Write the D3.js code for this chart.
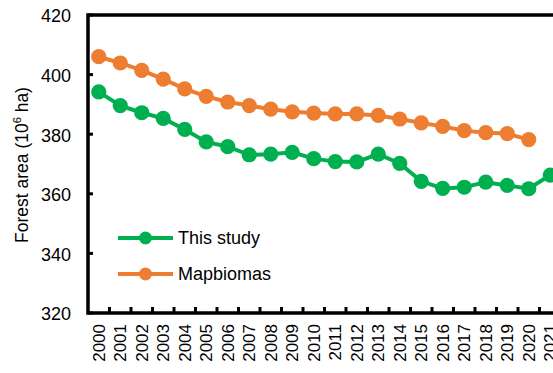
<!DOCTYPE html>
<html>
<head>
<meta charset="utf-8">
<script src="https://cdn.jsdelivr.net/npm/d3@7"></script>
<style>
  html, body { margin: 0; padding: 0; background: #fff; }
  svg { display: block; font-family: Arial, "Liberation Sans", sans-serif; }
</style>
</head>
<body>
<svg id="chart" width="553" height="373"></svg>
<script>
// Annual forest area estimates, million hectares
const years = ["2000","2001","2002","2003","2004","2005","2006","2007","2008","2009","2010",
               "2011","2012","2013","2014","2015","2016","2017","2018","2019","2020","2021"];
const thisStudy = [394.2, 389.6, 387.2, 385.3, 381.6, 377.4, 375.8, 373.1, 373.3, 373.9, 371.8,
                   370.8, 370.7, 373.3, 370.2, 364.2, 361.8, 362.2, 363.9, 362.8, 361.7, 366.3];
const mapbiomas = [406.0, 403.9, 401.4, 398.5, 395.2, 392.7, 390.8, 389.6, 388.4, 387.5, 387.1,
                   386.8, 386.8, 386.3, 385.1, 383.8, 382.6, 381.2, 380.5, 380.2, 378.2];
const yTicks = [320, 340, 360, 380, 400, 420];
const seriesNames = ["This study", "Mapbiomas"];
const colors = ["#00B050", "#ED7D31"];

const svg = d3.select("#chart");
const plotLeft = 88, plotTop = 15, plotBottom = 313;
const bandW = 21.5;

const x = d3.scaleBand().domain(years).range([plotLeft, plotLeft + bandW * years.length]).paddingInner(0).paddingOuter(0);
const y = d3.scaleLinear().domain([320, 420]).range([plotBottom, plotTop]);

// Series lines and markers
const series = [thisStudy, mapbiomas];
const line = d3.line()
  .x((d, i) => x(years[i]) + x.bandwidth() / 2)
  .y(d => y(d));

series.forEach((vals, s) => {
  const g = svg.append("g");
  g.append("path")
    .attr("d", line(vals))
    .attr("fill", "none")
    .attr("stroke", colors[s])
    .attr("stroke-width", 4);
  g.selectAll("circle").data(vals).join("circle")
    .attr("cx", (d, i) => x(years[i]) + x.bandwidth() / 2)
    .attr("cy", d => y(d))
    .attr("r", 7.6)
    .attr("fill", colors[s]);
});

// Y axis: inward ticks, labels on the left
const yAxis = svg.append("g").attr("transform", `translate(${plotLeft},0)`);
yAxis.selectAll("line.tick").data(yTicks).join("line")
  .attr("x1", 0).attr("x2", 5)
  .attr("y1", d => y(d)).attr("y2", d => y(d))
  .attr("stroke", "#000").attr("stroke-width", 3);
yAxis.selectAll("text").data(yTicks).join("text")
  .attr("x", -17).attr("y", d => y(d) + 1)
  .attr("dy", "0.35em")
  .attr("text-anchor", "end")
  .attr("font-size", 18)
  .attr("fill", "#000")
  .text(d => d);

// X axis: ticks between categories, pointing inward
const edges = years.map(yr => x(yr)).concat([x.range()[1]]).slice(1);
svg.append("g").selectAll("line").data(edges).join("line")
  .attr("x1", d => d).attr("x2", d => d)
  .attr("y1", plotBottom).attr("y2", plotBottom - 6)
  .attr("stroke", "#000").attr("stroke-width", 3);
svg.append("g").selectAll("text").data(years).join("text")
  .attr("transform", d => `translate(${x(d) + x.bandwidth() / 2},${plotBottom + 11}) rotate(-90)`)
  .attr("dy", "0.35em")
  .attr("text-anchor", "end")
  .attr("font-size", 17)
  .attr("fill", "#000")
  .text(d => d);

// Plot frame
svg.append("rect")
  .attr("x", plotLeft).attr("y", plotTop)
  .attr("width", x.range()[1] - plotLeft).attr("height", plotBottom - plotTop)
  .attr("fill", "none").attr("stroke", "#000").attr("stroke-width", 3.5);

// Y axis title
const yTitle = svg.append("text")
  .attr("transform", `translate(28,165) rotate(-90)`)
  .attr("text-anchor", "middle")
  .attr("font-size", 17.5)
  .attr("fill", "#000");
yTitle.append("tspan").text("Forest area (10");
yTitle.append("tspan").attr("font-size", 11).attr("dy", -7).text("6");
yTitle.append("tspan").attr("dy", 7).text(" ha)");

// Legend
const legend = svg.append("g");
seriesNames.forEach((name, i) => {
  const ly = 238 + i * 36;
  legend.append("line")
    .attr("x1", 118).attr("x2", 173).attr("y1", ly).attr("y2", ly)
    .attr("stroke", colors[i]).attr("stroke-width", 4);
  legend.append("circle")
    .attr("cx", 145.5).attr("cy", ly).attr("r", 6.5).attr("fill", colors[i]);
  legend.append("text")
    .attr("x", 178).attr("y", ly).attr("dy", "0.35em")
    .attr("font-size", 18).attr("fill", "#000")
    .text(name);
});
</script>
</body>
</html>
